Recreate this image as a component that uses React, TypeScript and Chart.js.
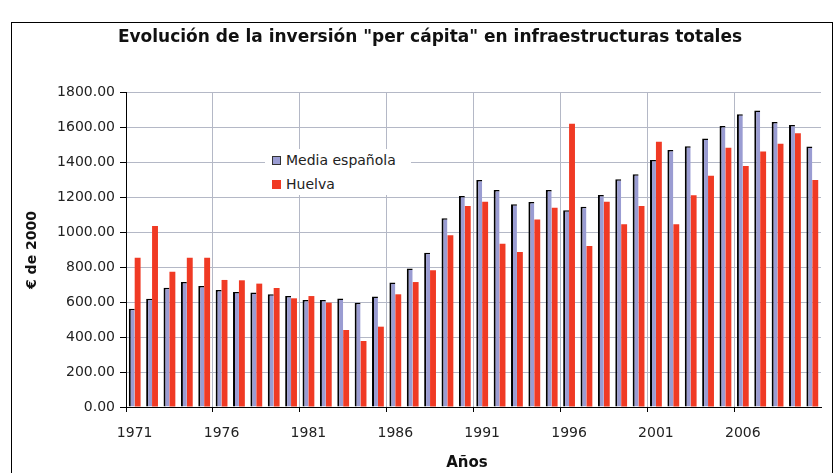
import React, { useEffect, useRef } from "react";
import { Chart, registerables } from "chart.js";

Chart.register(...registerables);

const years = [
  "1971", "1972", "1973", "1974", "1975", "1976", "1977", "1978", "1979", "1980",
  "1981", "1982", "1983", "1984", "1985", "1986", "1987", "1988", "1989", "1990",
  "1991", "1992", "1993", "1994", "1995", "1996", "1997", "1998", "1999", "2000",
  "2001", "2002", "2003", "2004", "2005", "2006", "2007", "2008", "2009", "2010",
];

const mediaEspanola = [
  562, 619, 682, 714, 691, 669, 657, 655, 644, 634,
  611, 611, 620, 596, 631, 711, 791, 882, 1078, 1206,
  1297, 1240, 1158, 1171, 1240, 1124, 1145, 1212, 1301, 1330,
  1412, 1469, 1490, 1535, 1606, 1673, 1695, 1629, 1612, 1488,
];

const huelva = [
  853, 1034, 773, 853, 853, 726, 724, 705, 680, 621,
  634, 596, 440, 377, 459, 644, 714, 781, 981, 1149,
  1173, 933, 886, 1072, 1139, 1619, 920, 1173, 1044, 1149,
  1516, 1044, 1210, 1322, 1482, 1377, 1460, 1505, 1564, 1297,
];

const yMin = 0;
const yMax = 1800;
const yStep = 200;

const seriesNames = ["Media española", "Huelva"];
const chartTitle = "Evolución de la inversión \"per cápita\" en infraestructuras totales";
const xTitle = "Años";
const yTitle = "€ de 2000";

const BLUE = "#9a9cd2";
const RED = "#f03a24";
const GRID = "#b4b8c6";
const FONT = "'DejaVu Sans', sans-serif";

export default function App() {
  const canvasRef = useRef<HTMLCanvasElement | null>(null);

  useEffect(() => {
    document.body.style.margin = "0";
    const canvas = canvasRef.current;
    if (!canvas) return;
    const chart = new Chart(canvas, {
      type: "bar",
      data: {
        labels: years,
        datasets: [
          {
            label: seriesNames[0],
            data: mediaEspanola,
            backgroundColor: BLUE,
            borderColor: "#000",
            borderWidth: { left: 2, top: 1.5, right: 0, bottom: 0 },
            borderSkipped: false,
            categoryPercentage: 0.68,
            barPercentage: 1.0,
          },
          {
            label: seriesNames[1],
            data: huelva,
            backgroundColor: RED,
            borderWidth: 0,
            categoryPercentage: 0.68,
            barPercentage: 1.0,
          },
        ],
      },
      options: {
        responsive: false,
        animation: false,
        events: [],
        layout: { padding: { top: 92, left: 0, right: 16, bottom: 0 } },
        plugins: {
          legend: { display: false },
          title: { display: false },
          tooltip: { enabled: false },
        },
        scales: {
          x: {
            offset: true,
            afterFit: (scale: any) => {
              scale.height = 66;
            },
            grid: {
              offset: true,
              color: (ctx: any) => (ctx.index % 5 === 0 ? GRID : "rgba(0,0,0,0)"),
              tickColor: (ctx: any) => (ctx.index % 5 === 0 ? "#000" : "rgba(0,0,0,0)"),
              tickLength: 5,
              drawTicks: true,
            },
            border: { color: "#000", width: 1 },
            ticks: {
              autoSkip: false,
              maxRotation: 0,
              minRotation: 0,
              padding: 13,
              color: "#222",
              font: { family: FONT, size: 14 },
              callback: (_v: any, i: number) => (i % 5 === 0 ? years[i] : ""),
            },
          },
          y: {
            min: yMin,
            max: yMax,
            afterFit: (scale: any) => {
              scale.width = 126;
            },
            grid: {
              color: GRID,
              tickColor: "#000",
              tickLength: 6,
            },
            border: { color: "#000", width: 1 },
            ticks: {
              stepSize: yStep,
              padding: 5,
              color: "#222",
              font: { family: FONT, size: 14 },
              callback: (v: any) => Number(v).toFixed(2),
            },
          },
        },
      },
    });
    return () => chart.destroy();
  }, []);

  const legendRow = (color: string, border: string, text: string, top: number) => (
    <div style={{ position: "absolute", left: 7, top, display: "flex", alignItems: "center", whiteSpace: "nowrap" }}>
      <span
        style={{
          display: "inline-block",
          width: 7,
          height: 7,
          background: color,
          border: border,
          marginRight: 5,
        }}
      />
      <span style={{ fontFamily: FONT, fontSize: 14, color: "#222", lineHeight: "16px" }}>{text}</span>
    </div>
  );

  return (
    <div style={{ position: "relative", width: 837, height: 473, overflow: "hidden", background: "#fff" }}>
      <div
        style={{
          position: "absolute",
          left: 11,
          top: 22,
          width: 822,
          height: 470,
          border: "1px solid #000",
          boxSizing: "border-box",
        }}
      />
      <canvas ref={canvasRef} width={837} height={473} style={{ position: "absolute", left: 0, top: 0 }} />
      <div
        style={{
          position: "absolute",
          left: 430,
          top: 26,
          transform: "translateX(-50%)",
          whiteSpace: "nowrap",
          fontFamily: FONT,
          fontWeight: "bold",
          fontSize: 17,
          lineHeight: "20px",
          color: "#111",
        }}
      >
        {chartTitle}
      </div>
      <div
        style={{
          position: "absolute",
          left: 31,
          top: 250,
          transform: "translate(-50%, -50%) rotate(-90deg)",
          whiteSpace: "nowrap",
          fontFamily: FONT,
          fontWeight: "bold",
          fontSize: 14,
          lineHeight: "16px",
          color: "#111",
        }}
      >
        {yTitle}
      </div>
      <div
        style={{
          position: "absolute",
          left: 467,
          top: 462,
          transform: "translate(-50%, -50%)",
          whiteSpace: "nowrap",
          fontFamily: FONT,
          fontWeight: "bold",
          fontSize: 15,
          lineHeight: "18px",
          color: "#111",
        }}
      >
        {xTitle}
      </div>
      <div style={{ position: "absolute", left: 265, top: 149, width: 146, height: 46, background: "#fff" }}>
        {legendRow(BLUE, "1px solid #333", seriesNames[0], 3)}
        {legendRow(RED, "1px solid " + RED, seriesNames[1], 27)}
      </div>
    </div>
  );
}
